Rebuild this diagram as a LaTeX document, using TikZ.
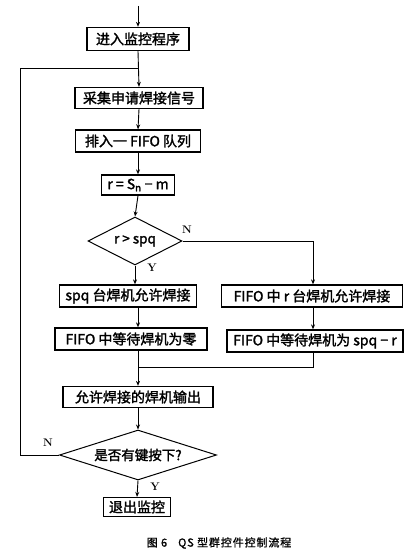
\documentclass[tikz,border=0pt]{standalone}
\usepackage{fontspec}
\newfontfamily\cjk{Noto Sans CJK SC}[FakeBold=1.8]
\newfontfamily\cjkcap{Noto Sans CJK SC}[FakeBold=1.2,LetterSpace=8]
\usetikzlibrary{shapes.geometric,arrows.meta}
\begin{document}
\begin{tikzpicture}[x=1pt,y=-1pt,
  box/.style={draw,line width=1.3pt,inner sep=1pt,font=\cjk\fontsize{14}{16}\selectfont},
  dia/.style={draw,diamond,line width=1pt,inner sep=0pt,font=\cjk\fontsize{13.5}{16}\selectfont},
  arr/.style={-{Stealth[length=5pt,width=4pt]},line width=0.9pt},
  ln/.style={line width=0.9pt},
  lbl/.style={font=\bfseries\fontsize{11}{12}\selectfont}]
\useasboundingbox (0,0) rectangle (415,559);
\coordinate (top) at (138,6);
\node[box,minimum width=102,minimum height=23] (b1) at (138,39) {进入监控程序};
\node[box,minimum width=128,minimum height=21] (b2) at (139,98) {采集申请焊接信号};
\node[box,minimum width=125,minimum height=22] (b3) at (138,141) {排入一 FIFO 队列};
\node[box,minimum width=73,minimum height=20] (b4) at (138,185) {r = S\textsubscript{n} − m};
\node[dia,shape aspect=2,minimum width=94,minimum height=48] (d1) at (135,241) {r > spq};
\node[box,minimum width=137,minimum height=22] (b5) at (128,296) {spq 台焊机允许焊接};
\node[box,minimum width=181,minimum height=22] (b6) at (312,296) {FIFO 中 r 台焊机允许焊接};
\node[box,minimum width=152,minimum height=22] (b7) at (131,339) {FIFO 中等待焊机为零};
\node[box,minimum width=176,minimum height=22] (b8) at (315,341) {FIFO 中等待焊机为 spq − r};
\node[box,minimum width=150,minimum height=21] (b9) at (138,397) {允许焊接的焊机输出};
\node[dia,shape aspect=3.2,minimum width=157,minimum height=50] (d2) at (138,455) {是否有键按下?};
\node[box,minimum width=67,minimum height=19] (b10) at (137,507) {退出监控};
\node[font=\cjkcap\fontsize{11}{12}\selectfont] (cap) at (219,543) {图 6\quad QS 型群控件控制流程};
\coordinate (j1) at (138,68);
\coordinate (lp) at (20,68);
\coordinate (rc) at (313,241);
\coordinate (mj) at (138,367);
% connectors
\draw[arr] (top) -- (b1.north);
\draw[arr] (b1.south) -- (b2.north);
\draw[ln] (d2.west) -| (lp) -- (j1);
\draw[arr] (b2.south) -- (b3.north);
\draw[arr] (b3.south) -- (b4.north);
\draw[arr] (b4.south) -- (d1.north);
\draw[arr] (d1.south) -- (b5.north -| d1.south);
\draw[ln] (d1.east) -- (rc);
\draw[arr] (rc) -- (b6.north -| rc);
\draw[arr] (b5.south -| b9.north) -- (b7.north -| b9.north);
\draw[arr] (b6.south -| rc) -- (b8.north -| rc);
\draw[ln] (b7.south -| b9.north) -- (mj);
\draw[ln] (b8.south -| rc) |- (mj);
\draw[arr] (mj) -- (b9.north);
\draw[arr] (b9.south) -- (d2.north);
\draw[arr] (d2.south) -- (b10.north);
% labels
\node[lbl] (n1) at (187,230) {N};
\node[lbl] (y1) at (152,268) {Y};
\node[lbl] (n2) at (48,443) {N};
\node[lbl] (y2) at (155,487) {Y};
\end{tikzpicture}
\end{document}
